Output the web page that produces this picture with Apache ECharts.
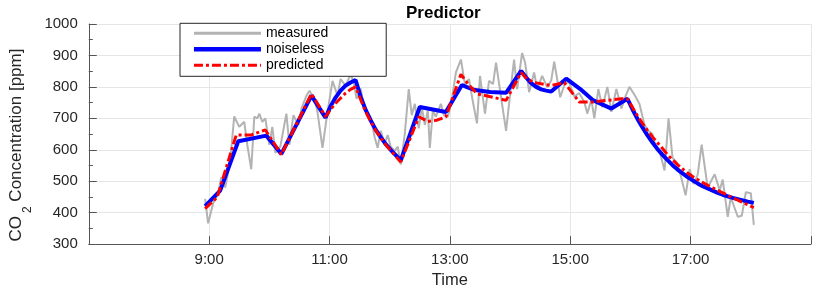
<!DOCTYPE html>
<html><head><meta charset="utf-8">
<script src="https://cdn.jsdelivr.net/npm/echarts@6/dist/echarts.min.js"></script>
<style>html,body{margin:0;padding:0;background:#fff}#c{width:814px;height:294px}</style>
</head><body><div id="c"></div>
<script>
const xTickLabels = ['9:00','11:00','13:00','15:00','17:00'];
const measuredTimes = ['8:56','8:59','9:04','9:09','9:12','9:16','9:21','9:25','9:30','9:35','9:38','9:42','9:45','9:48','9:50','9:53','9:56','10:00','10:03','10:06','10:11','10:17','10:20','10:24','10:29','10:32','10:37','10:40','10:45','10:48','10:53','10:58','11:03','11:08','11:11','11:16','11:21','11:24','11:27','11:31','11:34','11:38','11:42','11:45','11:48','11:51','11:55','11:58','12:01','12:05','12:08','12:11','12:15','12:19','12:22','12:25','12:29','12:32','12:35','12:38','12:40','12:43','12:46','12:51','12:54','12:58','13:02','13:06','13:11','13:15','13:19','13:23','13:27','13:30','13:35','13:39','13:43','13:46','13:51','13:56','14:01','14:04','14:07','14:12','14:15','14:19','14:24','14:27','14:32','14:37','14:41','14:44','14:50','14:55','14:59','15:04','15:09','15:14','15:17','15:21','15:24','15:28','15:32','15:37','15:41','15:46','15:51','15:55','15:59','16:04','16:09','16:14','16:18','16:22','16:26','16:29','16:34','16:38','16:42','16:46','16:50','16:55','16:59','17:03','17:07','17:11','17:17','17:24','17:29','17:32','17:37','17:40','17:47','17:51','17:55','18:00','18:03'];
const measuredValues = [444,366,430,460,512,480,565,706,673,689,616,538,705,700,715,689,700,616,673,590,611,715,616,710,679,731,772,788,762,720,606,721,819,772,825,804,840,815,762,795,740,710,690,640,606,660,620,647,610,596,610,553,650,793,710,746,668,736,679,725,606,725,705,746,710,705,760,846,887,809,825,752,684,835,715,819,809,877,767,660,804,887,793,908,877,783,846,793,835,799,820,880,767,814,814,770,780,752,715,760,700,793,735,800,721,793,731,770,800,775,746,679,660,650,600,596,534,700,574,560,520,455,538,491,520,616,480,522,471,505,387,449,387,390,465,462,361];
const noiselessTimes = ['8:56','9:11','9:29','9:57','10:12','10:42','10:56','11:01','11:06','11:11','11:16','11:21','11:26','11:31','11:36','11:41','11:46','11:51','11:56','12:01','12:06','12:11','12:30','12:56','13:12','13:17','13:25','13:40','13:56','14:11','14:16','14:21','14:26','14:31','14:36','14:41','14:56','15:10','15:23','15:41','15:57','16:02','16:07','16:12','16:17','16:22','16:27','16:32','16:37','16:42','16:47','16:52','16:57','17:02','17:07','17:12','17:17','17:22','17:27','17:32','17:37','17:42','17:47','17:52','17:57','18:03'];
const noiselessValues = [421,470,627,645,587,772,702,738,766,788,804,814,822,769,727,694,664,640,618,600,583,566,736,720,806,799,790,784,781,851,830,812,800,792,788,785,826,793,757,731,762,729,698,671,646,623,602,584,567,551,537,525,513,503,493,484,477,470,463,457,452,447,443,439,435,431];
const predictedTimes = ['8:56','9:08','9:27','9:42','9:56','10:12','10:42','10:56','11:01','11:06','11:11','11:16','11:21','11:26','11:31','11:36','11:41','11:46','11:51','11:56','12:01','12:06','12:11','12:29','12:38','12:47','12:56','13:11','13:17','13:27','13:43','13:56','14:11','14:17','14:24','14:41','14:54','15:09','15:23','15:51','15:57','16:02','16:07','16:12','16:17','16:22','16:27','16:32','16:37','16:42','16:47','16:52','16:57','17:02','17:07','17:12','17:17','17:22','17:27','17:32','17:37','17:42','17:47','17:52','17:57','18:03'];
const predictedValues = [413,449,647,647,663,585,778,705,728,748,764,780,792,800,760,722,690,662,638,616,598,579,561,705,690,694,705,840,814,778,767,757,846,825,814,804,814,752,752,762,762,735,708,684,661,641,622,604,584,568,553,539,526,515,505,496,487,479,471,463,455,447,440,432,425,416];

function toMin(s){const p=s.split(':').map(Number);return p[0]*60+p[1]-420;}
function pairs(ts,vs){return ts.map((t,i)=>[toMin(t),vs[i]]);}
const labelAt = {};
xTickLabels.forEach(l=>{labelAt[toMin(l)]=l;});

const FONT = 'Liberation Sans';
const axisCol = '#555555';
const txtCol = '#262626';
const chart = echarts.init(document.getElementById('c'), null, {renderer:'canvas'});
chart.setOption({
  animation:false,
  backgroundColor:'#fff',
  textStyle:{fontFamily:FONT},
  title:{text:'Predictor',left:401,top:0,textStyle:{fontFamily:FONT,fontSize:17,fontWeight:'bold',color:'#000'}},
  grid:{left:77.7,right:-1.4,top:24,bottom:46.3,containLabel:false},
  legend:{
    orient:'vertical',left:180,top:23.3,
    backgroundColor:'#fff',borderColor:'#262626',borderWidth:1,borderRadius:0,
    padding:[3,58,4,11.7],itemWidth:67,itemHeight:14,itemGap:2,
    itemStyle:{opacity:0},
    textStyle:{fontFamily:FONT,fontSize:14,color:'#000'},
    data:[
      {name:'measured',lineStyle:{width:3}},
      {name:'noiseless',lineStyle:{width:4.5}},
      {name:'predicted',lineStyle:{width:3}}
    ]
  },
  xAxis:{
    type:'value',min:0,max:720,interval:120,
    name:'Time',nameLocation:'middle',nameGap:27,
    nameTextStyle:{fontFamily:FONT,fontSize:16.5,color:txtCol},
    axisLine:{show:true,onZero:false,lineStyle:{color:axisCol,width:1}},
    axisTick:{show:true,inside:true,length:8,lineStyle:{color:axisCol}},
    axisLabel:{margin:8,fontFamily:FONT,fontSize:15,color:txtCol,
      formatter:v=>labelAt[v]||''},
    splitLine:{show:true,lineStyle:{color:'#e6e6e6',width:1}}
  },
  yAxis:{
    type:'value',min:300,max:1000,interval:100,
    name:'{a|CO}{b|2}{a| Concentration [ppm]}',nameLocation:'middle',nameGap:49,
    nameTextStyle:{fontFamily:FONT,fontSize:17,color:txtCol,padding:[0,22,0,0],
      rich:{a:{fontFamily:FONT,fontSize:17,color:txtCol},
            b:{fontFamily:FONT,fontSize:12,color:txtCol,padding:[22,0,0,3]}}},
    axisLine:{show:true,lineStyle:{color:axisCol,width:1}},
    axisTick:{show:true,inside:true,length:8,lineStyle:{color:axisCol}},
    minorTick:{show:true,splitNumber:2,length:4,lineStyle:{color:axisCol}},
    axisLabel:{margin:11,fontFamily:FONT,fontSize:15,color:txtCol,formatter:v=>String(v)},
    splitLine:{show:true,lineStyle:{color:'#e6e6e6',width:1}}
  },
  series:[
    {name:'measured',type:'line',symbol:'none',showSymbol:false,
     data:pairs(measuredTimes,measuredValues),
     lineStyle:{color:'#b3b3b3',width:2},itemStyle:{color:'#b3b3b3'}},
    {name:'noiseless',type:'line',symbol:'none',showSymbol:false,
     data:pairs(noiselessTimes,noiselessValues),
     lineStyle:{color:'#0000ff',width:4},itemStyle:{color:'#0000ff'}},
    {name:'predicted',type:'line',symbol:'none',showSymbol:false,
     data:pairs(predictedTimes,predictedValues),
     lineStyle:{color:'#ff0000',width:3,type:[9,3,3,3]},itemStyle:{color:'#ff0000'}}
  ]
});
</script></body></html>
